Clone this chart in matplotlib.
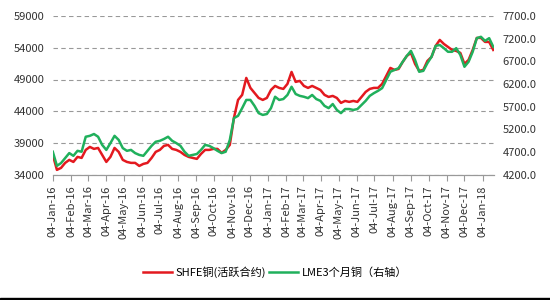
import numpy as np
import pandas as pd
import matplotlib
matplotlib.use("Agg")
import matplotlib.pyplot as plt
import matplotlib.dates as mdates
from matplotlib.ticker import FuncFormatter

plt.rcParams['font.family'] = ['Noto Sans CJK SC', 'DejaVu Sans']

# weekly samples
dates = pd.date_range("2016-01-04", periods=108, freq="7D")

shfe = [37140, 34790, 35100, 35890, 36360, 36040, 36830, 36670, 37930, 38400,
        38090, 38240, 37140, 36040, 36830, 38240, 37620, 36360, 36040, 35890,
        35890, 35410, 35730, 35890, 36670, 37620, 37930, 38560, 38720, 38090,
        37930, 37620, 37140, 36830, 36670, 36520, 37300, 37930, 37930, 38090,
        38090, 37460, 37930, 38720, 42960, 45790, 46580, 49250, 47680, 46890,
        46100, 45790, 46100, 47360, 47990, 47680, 47520, 48310, 50190, 48620,
        48780, 47990, 47680, 47990, 47680, 47360, 46580, 46260, 46420, 46100,
        45320, 45630, 45480, 45630, 45480, 46260, 47050, 47520, 47680, 47680,
        48310, 49560, 50820, 50510, 50660, 51760, 52710, 53180, 51450, 50350,
        50510, 51920, 52550, 54280, 55220, 54590, 54120, 53650, 53490, 53180,
        51450, 52080, 53650, 55540, 55540, 54910, 54910, 53650]

lme = [4710, 4400, 4460, 4570, 4680, 4620, 4730, 4710, 5040, 5060,
       5100, 5040, 4860, 4750, 4900, 5060, 4970, 4790, 4730, 4750,
       4680, 4640, 4620, 4730, 4840, 4930, 4950, 4990, 5040, 4950,
       4900, 4840, 4710, 4620, 4640, 4660, 4750, 4860, 4840, 4790,
       4730, 4680, 4710, 4970, 5450, 5500, 5670, 5850, 5850, 5720,
       5560, 5520, 5540, 5670, 5920, 5850, 5870, 5960, 6140, 5980,
       5940, 5920, 5890, 5960, 5870, 5830, 5720, 5670, 5760, 5630,
       5560, 5650, 5650, 5630, 5650, 5740, 5830, 5940, 6000, 6050,
       6110, 6290, 6470, 6510, 6550, 6690, 6820, 6930, 6730, 6470,
       6490, 6660, 6800, 7040, 7060, 6990, 6910, 6910, 6990, 6840,
       6580, 6690, 6910, 7210, 7240, 7150, 7210, 7020]

left_ticks = [34000, 39000, 44000, 49000, 54000, 59000]
right_ticks = [4200, 4700, 5200, 5700, 6200, 6700, 7200, 7700]

red = '#E3191F'
green = '#20B05C'

fig = plt.figure(figsize=(5.5, 3), dpi=100)
ax = fig.add_axes([0.096, 0.417, 0.803, 0.53])
ax2 = ax.twinx()

l1, = ax.plot(dates, shfe, color=red, lw=1.8, label='SHFE铜(活跃合约)')
l2, = ax2.plot(dates, lme, color=green, lw=1.8, label='LME3个月铜（右轴）')

ax.set_ylim(34000, 59000)
ax2.set_ylim(4200, 7700)
ax.set_yticks(left_ticks)
ax2.set_yticks(right_ticks)
ax2.yaxis.set_major_formatter(FuncFormatter(lambda v, p: '%.1f' % v))
ax.set_xlim(pd.Timestamp("2016-01-04"), pd.Timestamp("2018-01-24"))

ticks = pd.date_range("2016-01-01", "2018-01-04", freq="MS") + pd.Timedelta(days=3)
ax.set_xticks(ticks)
ax.xaxis.set_major_formatter(mdates.DateFormatter('%d-%b-%y'))
plt.setp(ax.get_xticklabels(), rotation=90)

ax.grid(axis='y', color='#999999', ls=(0, (4, 3)), lw=0.8)
for a in (ax, ax2):
    for s in ('top', 'left', 'right'):
        a.spines[s].set_visible(False)
    a.spines['bottom'].set_color('#999999')
    a.tick_params(labelsize=8, colors='#333333')
ax.tick_params(axis='y', length=0, pad=6)
ax2.tick_params(axis='y', length=0, pad=6)
ax.tick_params(axis='x', length=4, color='#999999')

fig.legend(handles=[l1, l2], loc='center', bbox_to_anchor=(0.5, 0.093), ncol=2,
           frameon=False, fontsize=8, handlelength=2.6, columnspacing=0.3,
           handletextpad=0.3)

fig.add_artist(plt.Rectangle((0, 0), 1, 0.008, transform=fig.transFigure, color='black'))

fig.savefig('out.png', dpi=100)
